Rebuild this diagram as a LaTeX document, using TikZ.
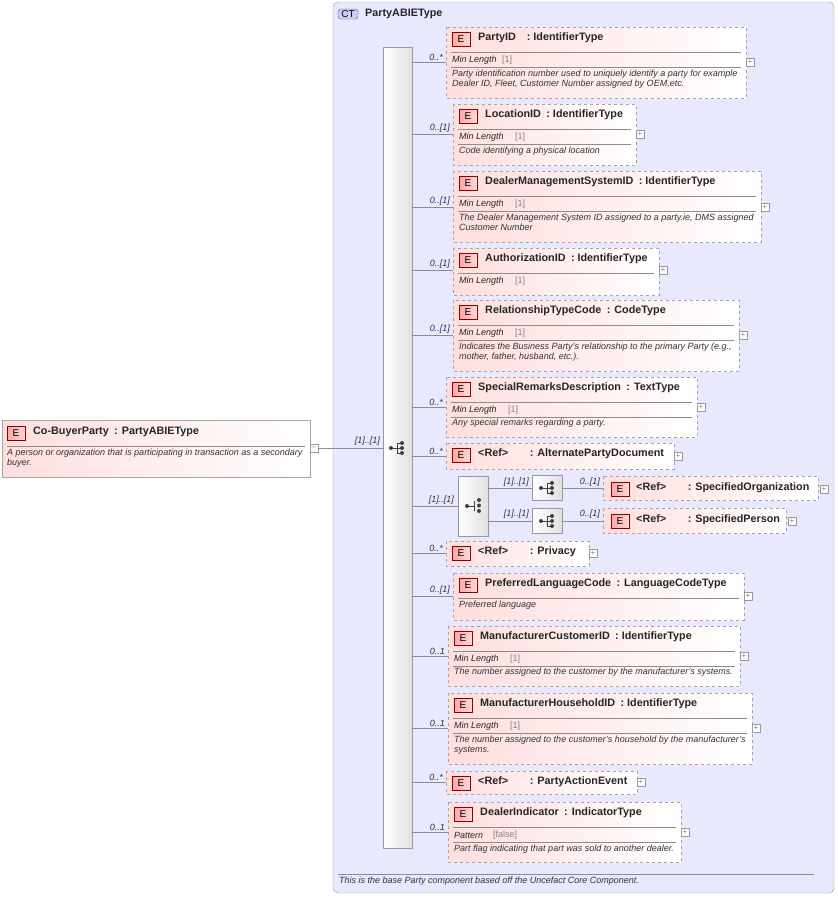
\documentclass[tikz,border=0pt]{standalone}
\usepackage{fontspec}
\setmainfont{Liberation Sans}
\begin{document}
\begin{tikzpicture}[x=1pt,y=-1pt,
 ebox/.style={draw=black!35,dashed,left color=red!13,right color=white},
 sbox/.style={draw=black!35,left color=red!13,right color=white},
 badge/.style={draw=red!55!black,left color=red!35,right color=red!15,minimum width=18pt,minimum height=14pt,inner sep=0pt,font=\fontsize{10}{11}\selectfont},
 ttl/.style={anchor=west,inner sep=0pt,font=\fontsize{10.8}{13}\selectfont\bfseries,text=black!85},
 desc/.style={anchor=north west,inner sep=0pt,font=\fontsize{9}{10}\selectfont\itshape,text=black!80,align=left},
 fac/.style={anchor=west,inner sep=0pt,font=\fontsize{9}{10}\selectfont\itshape,text=black!85},
 fv/.style={anchor=west,inner sep=0pt,font=\fontsize{9}{10}\selectfont,text=black!50},
 card/.style={anchor=south east,inner sep=1pt,font=\fontsize{9}{10}\selectfont\itshape,text=black!80},
 plus/.style={draw=black!40,fill=white,minimum size=8pt,inner sep=0pt,font=\fontsize{8}{8}\selectfont,text=black!50},
 sep/.style={draw=black!45,line width=0.5pt},
 conn/.style={draw=black!45,line width=0.6pt}]
\path[use as bounding box] (0,0) rectangle (838,897);
\fill[white] (0,0) rectangle (838,897);
% CT box
\draw[black!40,fill=blue!9,rounded corners=5pt] (333,2) rectangle (834,893);
\node[draw=black!60,fill=blue!20,rounded corners=3pt,inner sep=1.5pt,minimum width=20pt,font=\fontsize{10}{11}\selectfont] (ct) at (348,14) {CT};
\node[ttl] (ctt) at (365,14) {PartyABIEType};
\draw[sep] (338,874) -- (814,874);
\node[desc] (ctd) at (339,877) {This is the base Party component based off the Uncefact Core Component.};
% sequence bar
\node[draw=black!40,left color=white,right color=black!12,minimum width=29pt,minimum height=801pt,inner sep=0pt] (seq) at (397.5,447.5) {};
\newcommand\SeqIcon[2]{%
 \draw[black!75,line width=0.8pt] (#1-6,#2) -- (#1,#2) (#1,#2-5) -- (#1,#2+5) (#1,#2-5)--(#1+4,#2-5) (#1,#2)--(#1+4,#2) (#1,#2+5)--(#1+4,#2+5);
 \fill[black!75] (#1-6,#2) circle (2pt) (#1+5,#2-5) circle (2pt) (#1+5,#2) circle (2pt) (#1+5,#2+5) circle (2pt);}
\SeqIcon{397}{448}
% Co-BuyerParty
\draw[sbox] (2,420) rectangle (310,477);
\node[badge] (cbb) at (16,433) {E};
\node[ttl] (cbt) at (33,432) {Co-BuyerParty\enspace: PartyABIEType};
\draw[sep] (7,446) -- (305,446);
\node[desc] (cbd) at (7,449) {A person or organization that is participating in transaction as a secondary\\buyer.};
\node[draw=black!40,fill=white,minimum size=8pt,inner sep=0pt,font=\fontsize{8}{8}\selectfont,text=black!50] (cbm) at (314,448) {--};
\draw[conn] (cbm.east) -- (seq.west |- cbm.east);
\node[card] (cbc) at (381,447) {[1]..[1]};
% element macro
\newcommand\Elm[8]{% name x1 y1 x2 y2 title lineY style
 \draw[#8] (#2,#3) rectangle (#4,#5);
 \node[badge] (#1b) at (#2+15,#3+12) {E};
 \node[ttl] (#1t) at (#2+32,#3+11) {#6};
 \node[plus] (#1p) at (#4+4,#7) {+};
 \coordinate (#1c) at (#2,#7);
 \draw[conn] (seq.east |- #1c) -- (#1c);}
\newcommand\Card[3]{\node[card] at (#2-2,#3) {#1};}
\newcommand\MinL[4]{\draw[sep] (#1+5,#2+25) -- (#3-5,#2+25);
 \node[fac] at (#1+6,#2+33) {#4}; }
% 1 PartyID
\Elm{a}{446}{27}{746}{98}{PartyID\quad: IdentifierType}{62}{ebox}
\MinL{446}{27}{746}{Min Length}\node[fv] at (502,60) {[1]};
\draw[sep] (451,67) -- (741,67);
\node[desc] at (452,70) {Party identification number used to uniquely identify a party for example\\Dealer ID, Fleet, Customer Number assigned by OEM,etc.};
\Card{0..*}{446}{62}
% 2
\Elm{b}{453}{104}{636}{165}{LocationID\enspace: IdentifierType}{134}{ebox}
\MinL{453}{104}{636}{Min Length}\node[fv] at (515,137) {[1]};
\draw[sep] (458,144) -- (631,144);
\node[desc] at (459,147) {Code identifying a physical location};
\Card{0..[1]}{453}{134}
% 3
\Elm{c}{453}{171}{761}{242}{DealerManagementSystemID\enspace: IdentifierType}{207}{ebox}
\MinL{453}{171}{761}{Min Length}\node[fv] at (515,204) {[1]};
\draw[sep] (458,211) -- (756,211);
\node[desc] at (459,214) {The Dealer Management System ID assigned to a party.ie, DMS assigned\\Customer Number};
\Card{0..[1]}{453}{207}
% 4
\Elm{d}{453}{248}{659}{295}{AuthorizationID\enspace: IdentifierType}{270}{ebox}
\MinL{453}{248}{659}{Min Length}\node[fv] at (515,281) {[1]};
\Card{0..[1]}{453}{270}
% 5
\Elm{e}{453}{300}{739}{371}{RelationshipTypeCode\enspace: CodeType}{335}{ebox}
\MinL{453}{300}{739}{Min Length}\node[fv] at (515,333) {[1]};
\draw[sep] (458,340) -- (734,340);
\node[desc] at (459,343) {Indicates the Business Party's relationship to the primary Party (e.g.,\\mother, father, husband, etc.).};
\Card{0..[1]}{453}{335}
% 6
\Elm{f}{446}{377}{697}{437}{SpecialRemarksDescription\enspace: TextType}{407}{ebox}
\MinL{446}{377}{697}{Min Length}\node[fv] at (508,410) {[1]};
\draw[sep] (451,417) -- (692,417);
\node[desc] at (452,419) {Any special remarks regarding a party.};
\Card{0..*}{446}{407}
% 7
\Elm{g}{446}{443}{674}{469}{<Ref>\qquad: AlternatePartyDocument}{456}{ebox}
\Card{0..*}{446}{456}
% choice
\node[draw=black!40,left color=white,right color=black!12,minimum width=30pt,minimum height=60pt,inner sep=0pt] (ch) at (473,506) {};
\coordinate (chc) at (ch.west);
\draw[conn] (seq.east |- chc) -- (chc);
\node[card] at (455,506) {[1]..[1]};
\draw[black!75,line width=0.8pt] (467,506) -- (474,506) (474,501) -- (474,511);
\fill[black!75] (467,506) circle (2pt) (479,500) circle (2pt) (479,505.5) circle (2pt) (479,511) circle (2pt);
\node[draw=black!40,left color=white,right color=black!12,minimum width=30pt,minimum height=25pt,inner sep=0pt] (s1) at (547,488) {};
\node[draw=black!40,left color=white,right color=black!12,minimum width=30pt,minimum height=25pt,inner sep=0pt] (s2) at (547,521) {};
\SeqIcon{547}{488}\SeqIcon{547}{521}
\draw[conn] (ch.east |- s1) -- (s1.west);
\draw[conn] (ch.east |- s2) -- (s2.west);
\node[card] at (530,488) {[1]..[1]};
\node[card] at (530,520) {[1]..[1]};
\draw[ebox] (603,476) rectangle (818,500);
\node[badge] (hb) at (620,489) {E};
\node[ttl] (ht) at (636,488) {<Ref>\qquad: SpecifiedOrganization};
\node[plus] (hp) at (824,489) {+};
\draw[conn] (s1.east) -- (603,488);
\node[card] at (601,488) {0..[1]};
\draw[ebox] (603,508) rectangle (786,533);
\node[badge] (ib) at (620,521) {E};
\node[ttl] (it) at (636,520) {<Ref>\qquad: SpecifiedPerson};
\node[plus] (ip) at (792,521) {+};
\draw[conn] (s2.east) -- (603,521);
\node[card] at (601,520) {0..[1]};
% 9
\Elm{j}{446}{541}{589}{566}{<Ref>\qquad: Privacy}{553}{ebox}
\Card{0..*}{446}{553}
% 10
\Elm{k}{453}{573}{744}{620}{PreferredLanguageCode\enspace: LanguageCodeType}{596}{ebox}
\draw[sep] (458,598) -- (739,598);
\node[desc] at (459,601) {Preferred language};
\Card{0..[1]}{453}{596}
% 11
\Elm{l}{448}{626}{740}{686}{ManufacturerCustomerID\enspace: IdentifierType}{656}{ebox}
\MinL{448}{626}{740}{Min Length}\node[fv] at (510,659) {[1]};
\draw[sep] (453,666) -- (735,666);
\node[desc] at (454,668) {The number assigned to the customer by the manufacturer's systems.};
\Card{0..1}{448}{656}
% 12
\Elm{m}{448}{693}{752}{764}{ManufacturerHouseholdID\enspace: IdentifierType}{728}{ebox}
\MinL{448}{693}{752}{Min Length}\node[fv] at (510,726) {[1]};
\draw[sep] (453,733) -- (747,733);
\node[desc] at (454,736) {The number assigned to the customer's household by the manufacturer's\\systems.};
\Card{0..1}{448}{728}
% 13
\Elm{n}{446}{771}{637}{794}{<Ref>\qquad: PartyActionEvent}{782}{ebox}
\Card{0..*}{446}{782}
% 14
\Elm{o}{448}{802}{681}{862}{DealerIndicator\enspace: IndicatorType}{832}{ebox}
\MinL{448}{802}{681}{Pattern}\node[fv] at (493,835) {[false]};
\draw[sep] (453,842) -- (676,842);
\node[desc] at (454,845) {Part flag indicating that part was sold to another dealer.};
\Card{0..1}{448}{832}
\end{tikzpicture}
\end{document}
